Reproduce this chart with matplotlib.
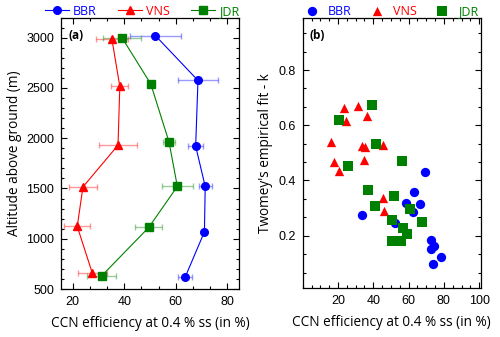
import numpy as np
import matplotlib
matplotlib.use("Agg")
import matplotlib.pyplot as plt
from matplotlib.ticker import MultipleLocator

# panel (a): altitude profiles
alt_bbr = [3020, 2574, 1921, 1520, 1069, 622]
eff_bbr = [52.1, 68.6, 67.7, 71.4, 71.1, 63.7]
err_bbr = [10.0, 7.7, 3.0, 2.5, 0.8, 2.7]

alt_vns = [2990, 2515, 1930, 1515, 1122, 661]
eff_vns = [35.2, 38.3, 37.6, 24.0, 21.8, 27.6]
err_vns = [6.2, 3.3, 7.4, 5.3, 5.0, 5.7]

alt_jdr = [2997, 2539, 1960, 1520, 1112, 629]
eff_jdr = [39.2, 50.3, 57.4, 60.6, 49.5, 31.2]
err_jdr = [7.4, 0.0, 2.3, 5.9, 5.3, 5.6]

# panel (b): Twomey k vs CCN efficiency
bbr_x = [69.4, 33.7, 52.5, 58.5, 63.2, 62.3, 66.4, 72.8, 74.3, 72.4, 78.2, 73.9]
bbr_k = [0.432, 0.274, 0.245, 0.320, 0.358, 0.287, 0.316, 0.184, 0.162, 0.153, 0.122, 0.096]

vns_x = [23.6, 31.5, 24.7, 36.2, 16.1, 33.7, 35.2, 45.5, 17.9, 35.0, 20.6, 45.5, 46.0]
vns_k = [0.661, 0.670, 0.616, 0.634, 0.539, 0.526, 0.522, 0.530, 0.467, 0.475, 0.436, 0.336, 0.291]

jdr_x = [39.5, 20.4, 41.8, 56.1, 25.8, 36.9, 51.5, 40.7, 60.6, 50.4, 67.3, 57.0, 59.2, 50.4, 55.5]
jdr_k = [0.674, 0.619, 0.531, 0.469, 0.451, 0.367, 0.344, 0.309, 0.298, 0.257, 0.251, 0.228, 0.208, 0.182, 0.182]

sites = ["BBR", "VNS", "JDR"]
colors = {"BBR": "#0000ff", "VNS": "#ff0000", "JDR": "#008000"}
markers = {"BBR": "o", "VNS": "^", "JDR": "s"}

plt.rcParams["font.family"] = ["Open Sans", "DejaVu Sans"]
tick_font = "Liberation Sans"

fig = plt.figure(figsize=(5.0, 3.37), dpi=100)
ax1 = fig.add_axes([0.122, 0.1424, 0.356, 0.8056])
ax2 = fig.add_axes([0.6054, 0.1448, 0.3566, 0.8032])


def style_axes(ax):
    ax.tick_params(which="both", direction="in", top=True, right=True,
                   width=0.8, labelsize=9, pad=5)
    ax.tick_params(which="major", length=4)
    ax.tick_params(which="minor", length=2.5)
    for lab in ax.get_xticklabels() + ax.get_yticklabels():
        lab.set_fontfamily(tick_font)
    for s in ax.spines.values():
        s.set_linewidth(0.9)


# ---- (a)
profiles = {
    "BBR": (eff_bbr, alt_bbr, err_bbr),
    "VNS": (eff_vns, alt_vns, err_vns),
    "JDR": (eff_jdr, alt_jdr, err_jdr),
}
for name in sites:
    x, y, e = profiles[name]
    c = colors[name]
    ax1.errorbar(x, y, xerr=e, fmt="none", ecolor=c, alpha=0.4,
                 elinewidth=1, capsize=2.5, capthick=1, zorder=2)
    ax1.plot(x, y, color=c, lw=0.8, marker=markers[name], ms=5.5,
             label=name, zorder=3)

ax1.set_xlim(15.5, 84.5)
ax1.set_ylim(500, 3200)
ax1.xaxis.set_major_locator(MultipleLocator(20))
ax1.xaxis.set_minor_locator(MultipleLocator(20 / 3))
ax1.yaxis.set_major_locator(MultipleLocator(500))
ax1.yaxis.set_minor_locator(MultipleLocator(100))
ax1.set_xlabel("CCN efficiency at 0.4 % ss (in %)", fontsize=9.8, labelpad=6)
ax1.set_ylabel("Altitude above ground (m)", fontsize=9.8, labelpad=3)
ax1.text(0.04, 0.935, "(a)", transform=ax1.transAxes, fontsize=8.5,
         fontweight="bold", va="center")
style_axes(ax1)
leg1 = ax1.legend(loc="lower center", bbox_to_anchor=(0.455, 0.995), ncol=3,
                  frameon=False, fontsize=9, handlelength=1.9,
                  handletextpad=0.3, columnspacing=1.75, borderaxespad=0,
                  borderpad=0.1, labelcolor="linecolor")

# ---- (b)
scatter_data = {
    "BBR": (bbr_x, bbr_k),
    "VNS": (vns_x, vns_k),
    "JDR": (jdr_x, jdr_k),
}
for name in sites:
    x, k = scatter_data[name]
    ax2.scatter(x, k, s=45, marker=markers[name], color=colors[name],
                label=name, linewidths=0, zorder=3)

ax2.set_xlim(0, 101)
ax2.set_ylim(0.01, 0.99)
ax2.set_xticks([20, 40, 60, 80, 100])
ax2.xaxis.set_minor_locator(MultipleLocator(5))
ax2.set_yticks([0.2, 0.4, 0.6, 0.8])
ax2.yaxis.set_minor_locator(MultipleLocator(0.2 / 3))
ax2.set_xlabel("CCN efficiency at 0.4 % ss (in %)", fontsize=9.8, labelpad=6)
ax2.set_ylabel("Twomey's empirical fit - k", fontsize=9.8, labelpad=4)
ax2.text(0.04, 0.935, "(b)", transform=ax2.transAxes, fontsize=8.5,
         fontweight="bold", va="center")
style_axes(ax2)
leg2 = ax2.legend(loc="lower center", bbox_to_anchor=(0.5, 0.995), ncol=3,
                  frameon=False, fontsize=9, handlelength=1.0,
                  handletextpad=0.8, columnspacing=1.5, borderaxespad=0,
                  borderpad=0.1, scatterpoints=1)
for txt, name in zip(leg2.get_texts(), sites):
    txt.set_color(colors[name])

fig.savefig("out.png", dpi=100)
